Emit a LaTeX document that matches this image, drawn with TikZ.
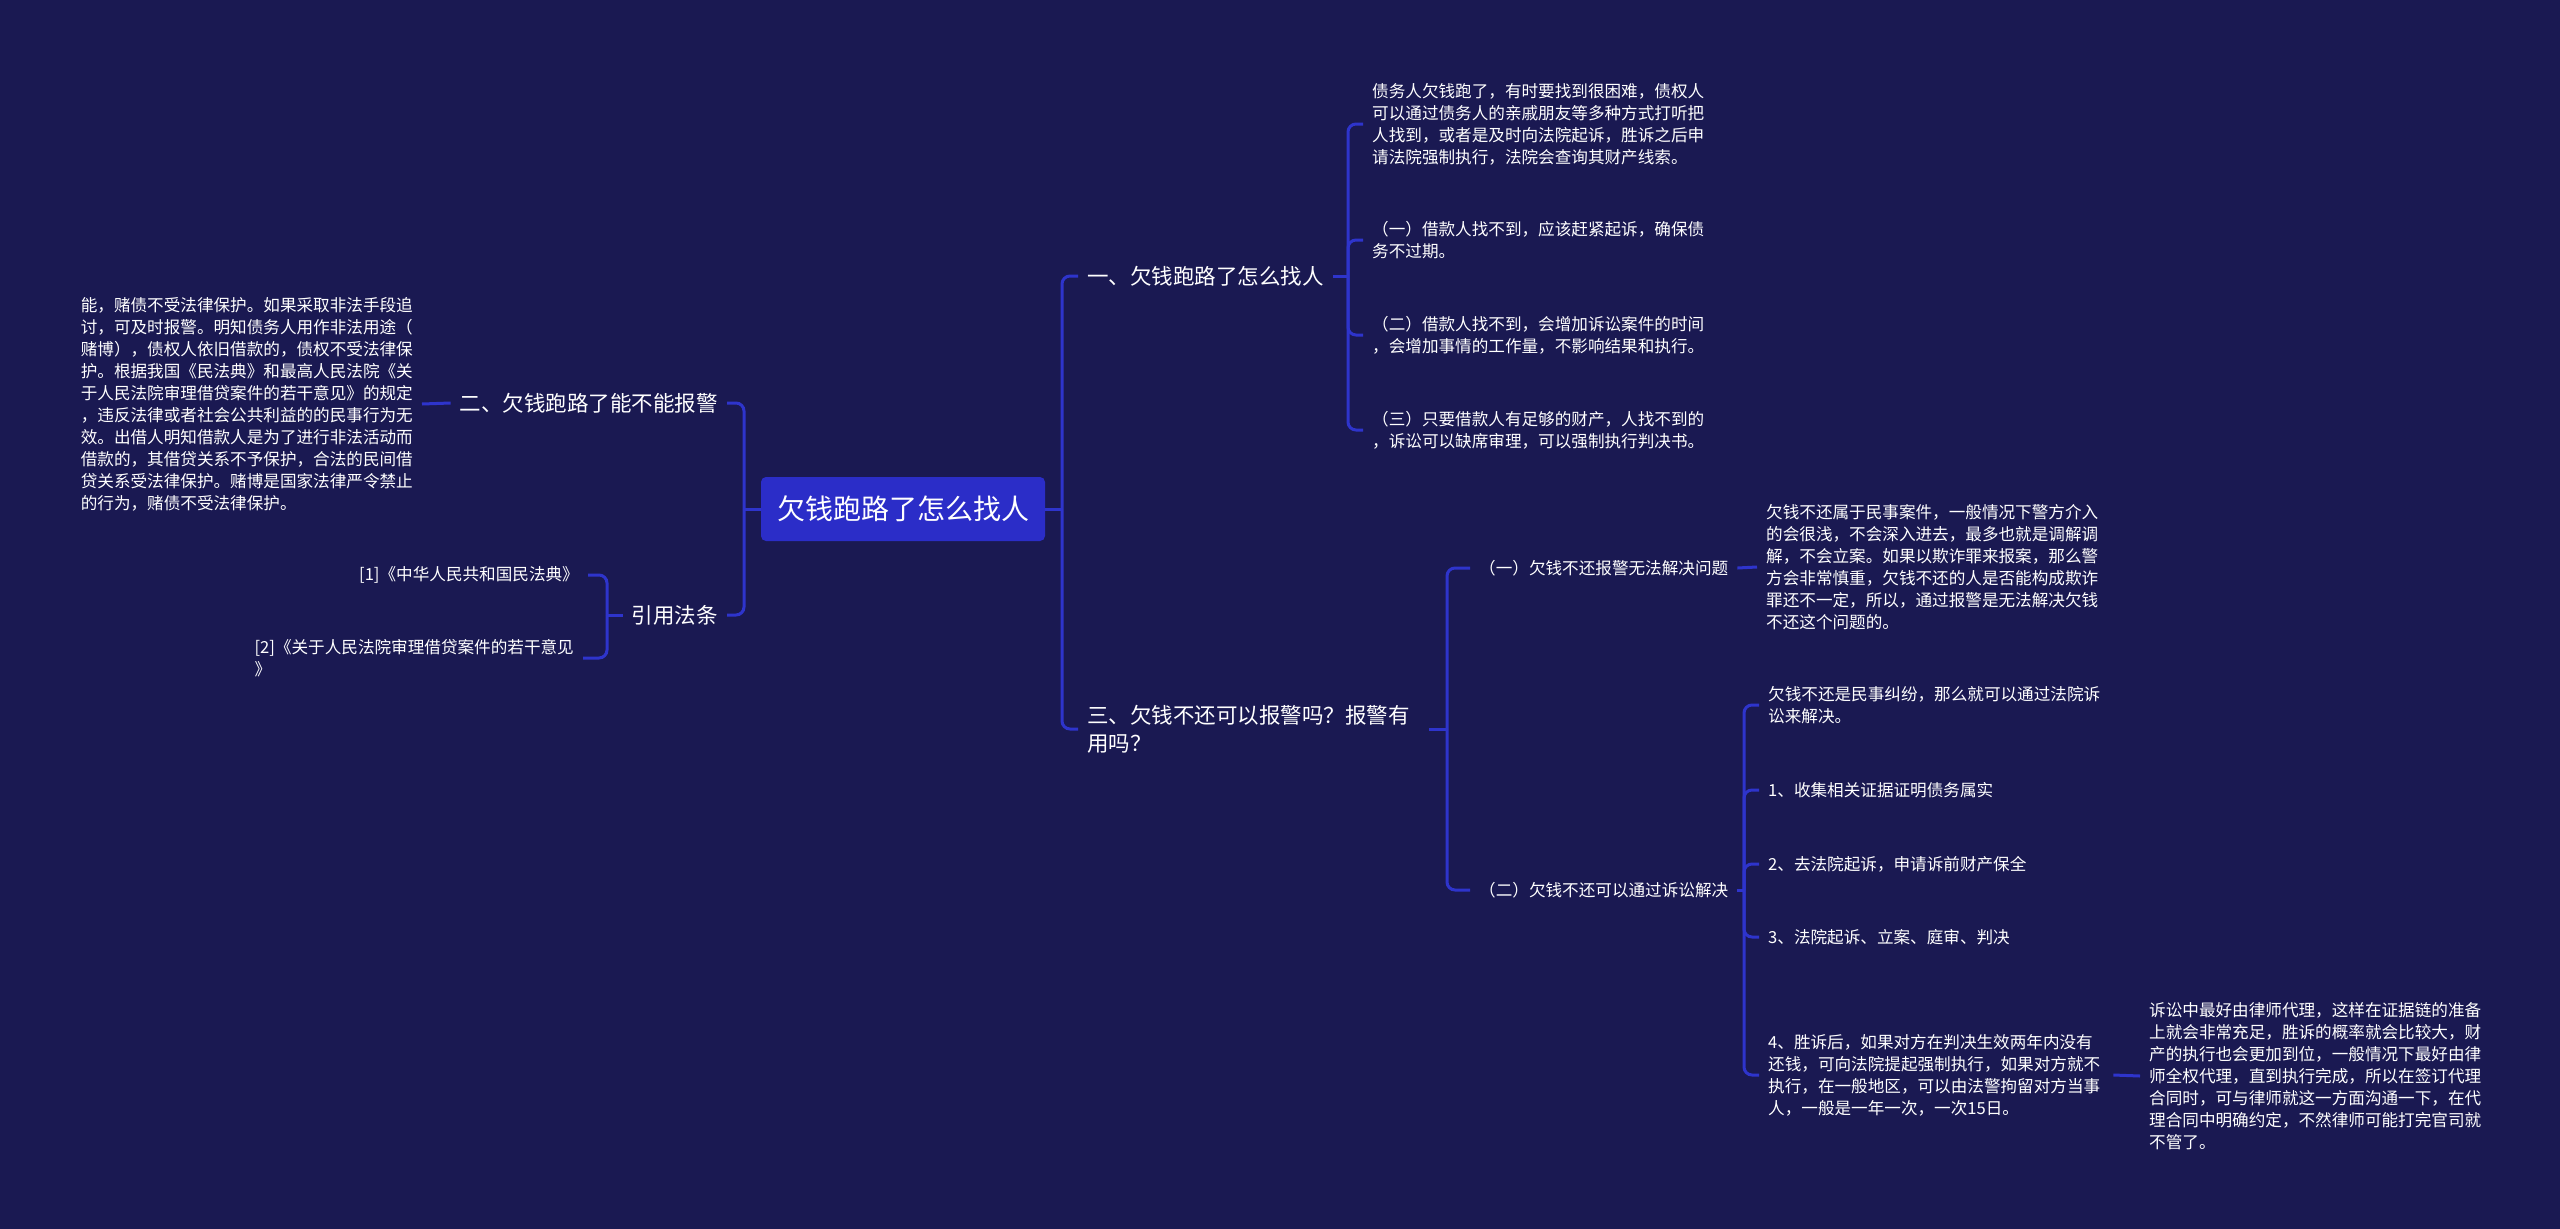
\documentclass[tikz,border=0pt]{standalone}
\usepackage{fontspec}
\setmainfont{Noto Sans CJK SC}
\definecolor{bg}{RGB}{26,25,82}
\definecolor{linec}{RGB}{46,52,204}
\definecolor{rootc}{RGB}{43,45,200}
\begin{document}
\begin{tikzpicture}[x=1pt,y=-1pt,
  conn/.style={draw=linec,line width=3pt,rounded corners=8pt},
  body/.style={text=white,font=\fontsize{16.6}{22}\selectfont,align=left,inner xsep=9pt,inner ysep=0pt},
  lab/.style={text=white,font=\fontsize{21.5}{28}\selectfont,align=left,inner xsep=9pt,inner ysep=0pt},
  rootbox/.style={fill=rootc,rounded corners=5pt,text=white,font=\fontsize{28}{34}\selectfont,minimum width=284pt,minimum height=64pt,inner sep=0pt}]
\fill[bg] (0,0) rectangle (2560,1229);
\useasboundingbox (0,0) rectangle (2560,1229);

% root
\node[rootbox] (root) at (903,509) {欠钱跑路了怎么找人};

% right side main branches
\node[lab,anchor=west] (n1) at (1078,276) {一、欠钱跑路了怎么找人};
\node[lab,anchor=west] (n3) at (1078,729) {三、欠钱不还可以报警吗？报警有\\用吗？};

% left side main branches
\node[lab,anchor=east] (l2) at (727,403) {二、欠钱跑路了能不能报警};
\node[lab,anchor=east] (lr) at (727,615) {引用法条};

% children of n1
\node[body,anchor=west] (c11) at (1363,124) {债务人欠钱跑了，有时要找到很困难，债权人\\可以通过债务人的亲戚朋友等多种方式打听把\\人找到，或者是及时向法院起诉，胜诉之后申\\请法院强制执行，法院会查询其财产线索。};
\node[body,anchor=west] (c12) at (1363,240) {（一）借款人找不到，应该赶紧起诉，确保债\\务不过期。};
\node[body,anchor=west] (c13) at (1363,335) {（二）借款人找不到，会增加诉讼案件的时间\\，会增加事情的工作量，不影响结果和执行。};
\node[body,anchor=west] (c14) at (1363,430) {（三）只要借款人有足够的财产，人找不到的\\，诉讼可以缺席审理，可以强制执行判决书。};

% children of n3
\node[body,anchor=west] (m1) at (1470,568) {（一）欠钱不还报警无法解决问题};
\node[body,anchor=west] (m2) at (1470,890) {（二）欠钱不还可以通过诉讼解决};

\node[body,anchor=west] (d1) at (1757,567) {欠钱不还属于民事案件，一般情况下警方介入\\的会很浅，不会深入进去，最多也就是调解调\\解，不会立案。如果以欺诈罪来报案，那么警\\方会非常慎重，欠钱不还的人是否能构成欺诈\\罪还不一定，所以，通过报警是无法解决欠钱\\不还这个问题的。};

\node[body,anchor=west] (e0) at (1759,705) {欠钱不还是民事纠纷，那么就可以通过法院诉\\讼来解决。};
\node[body,anchor=west] (e1) at (1759,790) {1、收集相关证据证明债务属实};
\node[body,anchor=west] (e2) at (1759,864) {2、去法院起诉，申请诉前财产保全};
\node[body,anchor=west] (e3) at (1759,937) {3、法院起诉、立案、庭审、判决};
\node[body,anchor=west] (e4) at (1759,1075) {4、胜诉后，如果对方在判决生效两年内没有\\还钱，可向法院提起强制执行，如果对方就不\\执行，在一般地区，可以由法警拘留对方当事\\人，一般是一年一次，一次15日。};

\node[body,anchor=west] (f1) at (2140,1076) {诉讼中最好由律师代理，这样在证据链的准备\\上就会非常充足，胜诉的概率就会比较大，财\\产的执行也会更加到位，一般情况下最好由律\\师全权代理，直到执行完成，所以在签订代理\\合同时，可与律师就这一方面沟通一下，在代\\理合同中明确约定，不然律师可能打完官司就\\不管了。};

% left children
\node[body,anchor=east] (lt) at (422,404) {能，赌债不受法律保护。如果采取非法手段追\\讨，可及时报警。明知债务人用作非法用途（\\赌博），债权人依旧借款的，债权不受法律保\\护。根据我国《民法典》和最高人民法院《关\\于人民法院审理借贷案件的若干意见》的规定\\，违反法律或者社会公共利益的的民事行为无\\效。出借人明知借款人是为了进行非法活动而\\借款的，其借贷关系不予保护，合法的民间借\\贷关系受法律保护。赌博是国家法律严令禁止\\的行为，赌债不受法律保护。};
\node[body,anchor=east] (r1) at (588,575) {[1]《中华人民共和国民法典》};
\node[body,anchor=east] (r2) at (583,658) {[2]《关于人民法院审理借贷案件的若干意见\\》};

% connectors: root to right trunk
\coordinate (rj) at (1062,509);
\draw[conn] (root.east) -- (rj);
\draw[conn] (rj) |- (n1.west);
\draw[conn] (rj) |- (n3.west);

% root to left trunk
\coordinate (lj) at (744,509);
\draw[conn] (root.west) -- (lj);
\draw[conn] (lj) |- (l2.east);
\draw[conn] (lj) |- (lr.east);

% n1 bracket
\coordinate (j1) at (1348,276);
\draw[conn] (n1.east) -- (j1);
\foreach \c in {c11,c12,c13,c14} \draw[conn] (j1) |- (\c.west);

% n3 bracket
\coordinate (j3) at (1447,729);
\draw[conn] ([xshift=10pt]n3.east |- j3) -- (j3);
\draw[conn] (j3) |- (m1.west);
\draw[conn] (j3) |- (m2.west);

% m1 to d1
\draw[conn] (m1.east) -- (d1.west);

% m2 bracket
\coordinate (j4) at (1744,890);
\draw[conn] (m2.east) -- (j4);
\foreach \c in {e0,e1,e2,e3,e4} \draw[conn] (j4) |- (\c.west);

% e4 to f1
\draw[conn] ([xshift=4pt]e4.east) -- (f1.west);

% left: l2 to long text
\draw[conn] (l2.west) -- (lt.east);

% left: lr bracket
\coordinate (j5) at (607,615);
\draw[conn] (lr.west) -- (j5);
\draw[conn] (j5) |- (r1.east);
\draw[conn] (j5) |- (r2.east);
\end{tikzpicture}
\end{document}
